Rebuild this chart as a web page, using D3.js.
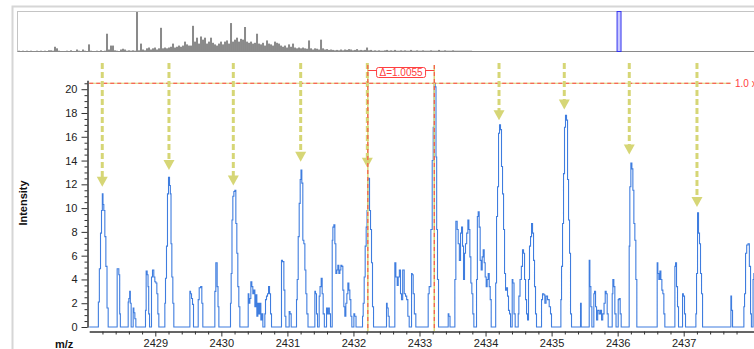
<!DOCTYPE html>
<html>
<head>
<meta charset="utf-8">
<script src="https://cdn.jsdelivr.net/npm/d3@7"></script>
<style>
  html, body { margin: 0; padding: 0; background: #fff; }
  svg { display: block; font-family: "Liberation Sans", Arial, sans-serif; }
</style>
</head>
<body>
<svg id="chart" width="754" height="349"></svg>
<script>
// ---- Zoomed profile spectrum: [m/z, intensity] ----
const profile = [
  [2428.0,0],
  [2428.133,0],[2428.143,2.1],[2428.163,4.9],[2428.178,7.9],[2428.193,9.8],[2428.203,11.2],[2428.213,10.3],[2428.228,9.8],[2428.244,7.6],[2428.259,5.1],[2428.279,1.6],[2428.294,0],
  [2428.420,0],[2428.425,4.9],[2428.440,4.9],[2428.456,4.4],[2428.466,1.1],[2428.476,0],
  [2428.587,0],[2428.592,2.1],[2428.607,2.4],[2428.617,3.0],[2428.627,2.0],[2428.642,0],[2428.662,0],[2428.668,1.6],[2428.683,1.2],[2428.698,0.7],[2428.713,0],
  [2428.849,0],[2428.854,1.4],[2428.869,4.7],[2428.885,4.4],[2428.895,3.4],[2428.905,1.1],[2428.920,0],[2428.940,0],[2428.945,4.2],[2428.970,4.8],[2428.985,4.2],[2429.001,3.8],[2429.016,3.7],[2429.031,2.8],[2429.046,1.1],[2429.061,0],
  [2429.142,0],[2429.147,2.0],[2429.162,4.1],[2429.177,6.8],[2429.192,11.2],[2429.208,12.6],[2429.223,11.9],[2429.233,11.2],[2429.243,7.0],[2429.258,4.2],[2429.273,2.0],[2429.288,0],
  [2429.521,0],[2429.526,3.0],[2429.541,2.8],[2429.556,2.4],[2429.571,1.9],[2429.586,0],[2429.647,0],[2429.652,2.3],[2429.677,3.3],[2429.697,3.4],[2429.712,2.0],[2429.727,0],
  [2429.899,0],[2429.904,3.0],[2429.929,5.4],[2429.944,3.4],[2429.955,1.7],[2429.970,0],
  [2430.136,0],[2430.141,2.0],[2430.156,4.5],[2430.166,9.0],[2430.182,11.0],[2430.197,11.4],[2430.212,11.5],[2430.227,8.7],[2430.242,6.2],[2430.257,3.4],[2430.272,1.7],[2430.288,0],
  [2430.404,0],[2430.409,2.8],[2430.424,2.0],[2430.439,2.4],[2430.454,3.8],[2430.469,3.4],[2430.484,2.8],[2430.500,3.1],[2430.515,1.7],[2430.530,2.7],[2430.545,0.9],[2430.560,2.0],[2430.575,1.1],[2430.590,2.0],[2430.606,0.6],[2430.621,1.1],[2430.636,0],[2430.656,0],[2430.661,1.1],[2430.676,2.3],[2430.691,2.6],[2430.707,2.8],[2430.722,3.4],[2430.737,2.8],[2430.752,1.1],[2430.767,0],
  [2430.908,0],[2430.913,5.6],[2430.939,5.5],[2430.954,3.1],[2430.969,0.9],[2430.984,0],[2431.024,0],[2431.030,1.3],[2431.050,1.1],[2431.065,0],
  [2431.135,0],[2431.141,2.3],[2431.156,4.0],[2431.171,7.6],[2431.186,10.4],[2431.201,12.4],[2431.211,13.2],[2431.226,12.1],[2431.241,7.3],[2431.257,7.0],[2431.272,4.8],[2431.287,2.8],[2431.302,1.1],[2431.322,0],
  [2431.413,0],[2431.418,3.0],[2431.433,2.8],[2431.448,1.1],[2431.464,0],[2431.479,0],[2431.484,2.6],[2431.504,3.4],[2431.519,4.1],[2431.534,2.8],[2431.549,1.1],[2431.570,0],[2431.590,0],[2431.595,1.6],[2431.610,1.1],[2431.625,1.6],[2431.645,1.1],[2431.660,0],
  [2431.676,0],[2431.681,7.3],[2431.696,8.4],[2431.711,8.6],[2431.726,7.0],[2431.741,4.5],[2431.756,4.8],[2431.771,5.2],[2431.787,4.5],[2431.802,4.8],[2431.817,5.2],[2431.832,5.1],[2431.847,3.1],[2431.862,1.7],[2431.877,0.9],[2431.893,2.0],[2431.908,2.8],[2431.923,3.7],[2431.938,3.1],[2431.953,2.3],[2431.968,0.9],[2431.983,0],[2432.004,0],[2432.009,1.1],[2432.029,0.9],[2432.049,0],
  [2432.135,0],[2432.140,0.9],[2432.155,2.0],[2432.170,4.2],[2432.185,6.8],[2432.200,8.4],[2432.211,9.8],[2432.221,12.4],[2432.236,12.5],[2432.251,9.8],[2432.266,8.2],[2432.281,5.4],[2432.296,1.7],[2432.312,0],
  [2432.498,0],[2432.503,2.0],[2432.518,1.6],[2432.534,0.9],[2432.549,0],[2432.624,0],[2432.629,5.4],[2432.655,4.2],[2432.670,3.5],[2432.685,4.2],[2432.705,4.8],[2432.720,2.8],[2432.735,2.3],[2432.756,4.8],[2432.781,2.8],[2432.796,2.6],[2432.816,2.3],[2432.831,0.9],[2432.857,0],[2432.877,0],[2432.882,4.5],[2432.897,4.4],[2432.912,2.8],[2432.932,1.1],[2432.957,0],
  [2433.129,0],[2433.134,2.8],[2433.159,3.4],[2433.185,8.2],[2433.200,14.0],[2433.215,16.8],[2433.230,20.5],[2433.245,20.2],[2433.255,14.3],[2433.265,8.2],[2433.280,4.0],[2433.296,0],
  [2433.432,0],[2433.437,1.1],[2433.452,0.9],[2433.472,0],
  [2433.533,0],[2433.538,4.0],[2433.563,8.9],[2433.578,8.2],[2433.593,7.0],[2433.614,5.6],[2433.629,7.9],[2433.644,8.4],[2433.659,6.8],[2433.674,4.0],[2433.689,6.2],[2433.704,7.0],[2433.725,7.9],[2433.740,9.0],[2433.755,8.2],[2433.770,5.9],[2433.785,3.7],[2433.800,2.8],[2433.815,1.1],[2433.831,0],[2433.856,0],[2433.871,4.0],[2433.881,9.3],[2433.896,9.7],[2433.911,8.4],[2433.926,5.6],[2433.942,4.8],[2433.957,5.9],[2433.972,6.5],[2433.987,5.4],[2434.002,4.2],[2434.017,3.4],[2434.032,4.0],[2434.048,4.5],[2434.063,3.4],[2434.078,2.3],[2434.093,0],
  [2434.148,0],[2434.159,3.7],[2434.174,9.3],[2434.189,11.8],[2434.204,16.3],[2434.219,17.0],[2434.234,16.6],[2434.249,13.5],[2434.265,11.2],[2434.280,8.2],[2434.295,4.5],[2434.310,3.1],[2434.325,3.3],[2434.340,2.6],[2434.355,1.4],[2434.371,1.1],[2434.386,0],[2434.401,0],[2434.406,4.0],[2434.421,3.7],[2434.441,1.1],[2434.456,0],
  [2434.492,0],[2434.497,1.1],[2434.512,2.6],[2434.532,4.0],[2434.552,5.1],[2434.567,6.5],[2434.583,6.2],[2434.598,4.0],[2434.613,2.3],[2434.628,1.1],[2434.643,0.6],[2434.658,4.0],[2434.673,6.8],[2434.689,7.6],[2434.704,8.7],[2434.719,7.9],[2434.734,5.6],[2434.749,3.4],[2434.764,1.1],[2434.779,0],
  [2434.845,0],[2434.850,2.3],[2434.875,2.8],[2434.890,2.7],[2434.906,2.0],[2434.926,2.6],[2434.951,2.3],[2434.976,1.7],[2434.991,1.1],[2435.006,0],
  [2435.138,0],[2435.143,2.3],[2435.158,5.1],[2435.173,8.7],[2435.188,12.9],[2435.203,16.8],[2435.218,17.8],[2435.234,17.4],[2435.249,12.4],[2435.264,9.0],[2435.279,6.2],[2435.294,1.1],[2435.309,0],
  [2435.435,0],[2435.441,2.0],[2435.456,0],[2435.567,0],[2435.572,5.6],[2435.587,3.4],[2435.602,1.7],[2435.617,0],[2435.637,0],[2435.642,2.8],[2435.658,3.0],[2435.673,1.7],[2435.688,0.6],[2435.708,1.4],[2435.733,1.1],[2435.748,1.4],[2435.764,0.6],[2435.784,1.1],[2435.804,2.0],[2435.819,3.0],[2435.834,2.8],[2435.849,1.1],[2435.864,0],[2435.915,0],[2435.920,2.8],[2435.935,4.0],[2435.950,3.4],[2435.965,1.1],[2435.986,0],[2436.006,0],[2436.011,2.3],[2436.031,2.4],[2436.046,1.1],[2436.061,0],
  [2436.172,0],[2436.177,6.8],[2436.192,11.8],[2436.208,13.8],[2436.223,13.3],[2436.238,11.5],[2436.253,8.7],[2436.268,7.3],[2436.283,4.0],[2436.298,0],
  [2436.596,0],[2436.601,5.4],[2436.616,4.5],[2436.632,4.0],[2436.647,4.7],[2436.662,4.0],[2436.677,3.1],[2436.692,2.8],[2436.707,1.1],[2436.722,0],[2436.864,0],[2436.869,5.1],[2436.884,5.4],[2436.899,3.4],[2436.914,1.7],[2436.929,0],[2436.980,0],[2436.985,2.8],[2437.005,2.6],[2437.020,1.1],[2437.035,0],
  [2437.182,0],[2437.187,1.1],[2437.202,4.5],[2437.217,9.6],[2437.232,7.9],[2437.247,7.0],[2437.262,4.5],[2437.278,2.8],[2437.293,0],
  [2437.712,0],[2437.717,2.6],[2437.732,1.4],[2437.747,0],
  [2437.908,0],[2437.914,1.7],[2437.929,2.8],[2437.944,6.2],[2437.964,6.9],[2437.984,7.0],[2438.004,5.1],[2438.020,1.1],[2438.030,0],[2438.045,0],[2438.055,4.0],[2438.070,4.5],[2438.090,0],
  [2438.3,0]
];

// ---- Axis ticks ----
const xTicks = [2429, 2430, 2431, 2432, 2433, 2434, 2435, 2436, 2437];
const yTicks = [0, 2, 4, 6, 8, 10, 12, 14, 16, 18, 20];

// ---- Isotope markers (m/z, intensity the arrow points to) ----
const isoMz  = [2428.197, 2429.207, 2430.181, 2431.201, 2432.210, 2434.204, 2435.192, 2436.176, 2437.201];
const isoInt = [11.8, 13.2, 11.9, 13.9, 13.4, 17.4, 18.3, 14.5, 10.1];

// ---- Distance measurement and reference level ----
const deltaFrom = 2432.218;
const deltaTo = 2433.2235;
const deltaLabel = "\u0394=1.0055";
const refLevel = 20.5;
const refLabel = "1.0 x";

// ---- Overview spectrum (binned relative abundance, %) ----
const ovStart = 870.6;
const ovBin = 5.2;
const ovValues = [
  2,0,2,0,2,0,2,0,0,2,0,2,0,2,0,3,3,2,12,8,2,0,0,0,2,0,3,0,0,5,2,0,5,2,0,18,2,0,0,2,0,3,0,2,
  45,5,15,15,3,2,0,5,7,5,2,3,2,3,2,100,3,20,5,3,8,10,5,8,10,5,8,60,8,10,8,10,12,20,10,12,15,12,15,25,18,15,15,
  65,25,35,20,38,30,35,20,25,35,22,18,15,20,25,18,25,28,20,72,25,30,35,25,32,30,62,25,22,25,20,22,45,20,18,22,15,28,20,18,15,
  25,22,20,15,12,15,10,18,12,20,10,8,10,8,10,8,7,28,8,5,8,7,5,30,8,5,6,4,5,4,3,4,3,5,3,5,4,6,5,3,4,6,3,4,3,4,10,3,4,2,3,2,3,2,2,3,4,2,3,2,4,2,2,3,2,3,2,2,4,2,2,3,2,2,3,2,2,2,3,2,2,2,4,2,2,3,2,2,2,3,2,2,2,2,2,2,2,2,2
];

const W = 754, H = 349;
const svg = d3.select("#chart");

// ---------- frame ----------
svg.append("path")
  .attr("d", `M${W},6.5 H12.5 V${H}`)
  .attr("fill", "none").attr("stroke", "#d6d6d6").attr("stroke-width", 2);

// ---------- overview panel ----------
const ovX = d3.scaleLinear().domain([868, 2784]).range([17, W]);
const ovY = d3.scaleLinear().domain([0, 100]).range([51.5, 12]);

svg.append("rect")
  .attr("x", 17.5).attr("y", 11.5).attr("width", W).attr("height", 40)
  .attr("fill", "#fff").attr("stroke", "#c4c4c4");

svg.append("g").selectAll("rect").data(ovValues).join("rect")
  .attr("x", (d, i) => ovX(ovStart + i * ovBin))
  .attr("width", ovX(ovBin) - ovX(0))
  .attr("y", d => ovY(d))
  .attr("height", d => ovY(0) - ovY(d))
  .attr("fill", "#8a8a8a");

svg.append("line")
  .attr("x1", 17.5).attr("x2", W).attr("y1", 51.5).attr("y2", 51.5)
  .attr("stroke", "#8a8a8a");

// main scales
const x = d3.scaleLinear().domain([2428, 2438.3]).range([89.25, 89.25 + 66.05 * 10.3]);
const y = d3.scaleLinear().domain([0, 20.75]).range([327, 80.3]);

// visible window marker in overview
const [vx0, vx1] = x.domain().map(ovX);
svg.append("rect")
  .attr("x", vx0).attr("y", 11.5).attr("width", vx1 - vx0).attr("height", 40)
  .attr("fill", "#c8c8ff").attr("stroke", "#3434ee");

// ---------- main plot ----------
svg.append("clipPath").attr("id", "plotClip")
  .append("rect").attr("x", 88.5).attr("y", 55).attr("width", W - 88.5).attr("height", 280);

const plot = svg.append("g").attr("clip-path", "url(#plotClip)");

// profile drawn as a stepped trace
const line = d3.line().x(d => x(d[0])).y(d => y(d[1])).curve(d3.curveStep);
plot.append("path")
  .datum(profile)
  .attr("d", line)
  .attr("fill", "none")
  .attr("stroke", "#3f7ddf")
  .attr("stroke-width", 1.1);

const yellow = "#d6d676";
const red = "#ff4040";

// reference level line
const refEnd = W - 23;
plot.append("line")
  .attr("x1", x.range()[0]).attr("x2", refEnd)
  .attr("y1", y(refLevel)).attr("y2", y(refLevel))
  .attr("stroke", yellow).attr("stroke-width", 1.2);
plot.append("line")
  .attr("x1", x.range()[0]).attr("x2", refEnd)
  .attr("y1", y(refLevel)).attr("y2", y(refLevel))
  .attr("stroke", red).attr("stroke-width", 1.2).attr("stroke-dasharray", "4,3");
svg.append("text")
  .attr("x", refEnd + 4).attr("y", y(refLevel) + 3.5)
  .attr("fill", red).attr("font-size", 10)
  .text(refLabel);

// isotope arrows
const arrows = plot.append("g");
isoMz.forEach((mz, i) => {
  const cx = x(mz), tip = y(isoInt[i]);
  arrows.append("line")
    .attr("x1", cx).attr("x2", cx).attr("y1", 63).attr("y2", tip - 9)
    .attr("stroke", yellow).attr("stroke-width", 3).attr("stroke-dasharray", "6,3");
  arrows.append("path")
    .attr("d", `M${cx - 5.5},${tip - 10} L${cx + 5.5},${tip - 10} L${cx},${tip} Z`)
    .attr("fill", yellow);
});

// distance measurement
const mx0 = x(deltaFrom), mx1 = x(deltaTo);
[mx0, mx1].forEach(mx => {
  svg.append("line")
    .attr("x1", mx).attr("x2", mx).attr("y1", 65).attr("y2", 331)
    .attr("stroke", yellow).attr("stroke-width", 1.5);
  svg.append("line")
    .attr("x1", mx).attr("x2", mx).attr("y1", 65).attr("y2", 331)
    .attr("stroke", red).attr("stroke-width", 1).attr("stroke-dasharray", "4,3");
});
svg.append("line")
  .attr("x1", mx0).attr("x2", mx1).attr("y1", 70.5).attr("y2", 70.5)
  .attr("stroke", red).attr("stroke-width", 1);
const mid = (mx0 + mx1) / 2;
svg.append("rect")
  .attr("x", mid - 24.5).attr("y", 67.5).attr("width", 49).attr("height", 10).attr("rx", 2)
  .attr("fill", "#fff").attr("stroke", red);
svg.append("text")
  .attr("x", mid).attr("y", 76).attr("text-anchor", "middle")
  .attr("fill", red).attr("font-size", 10)
  .text(deltaLabel);

// ---------- axes ----------
const axisColor = "#333";
function styleAxis(g) {
  g.attr("font-family", "Liberation Sans, Arial, sans-serif").attr("font-size", 11);
  g.selectAll("path,line").attr("stroke", axisColor);
  g.selectAll("text").attr("fill", "#222");
}

const yMinor = d3.range(0, 20.75, 0.5).filter(v => !yTicks.includes(v));
svg.append("g").attr("transform", "translate(87.5,0)")
  .call(d3.axisLeft(y).tickValues(yMinor).tickSize(3).tickSizeOuter(0).tickFormat(""))
  .call(styleAxis);
svg.append("g").attr("transform", "translate(87.5,0)")
  .call(d3.axisLeft(y).tickValues(yTicks).tickSize(6).tickSizeOuter(0).tickPadding(4))
  .call(styleAxis);

const xMinor = d3.range(2428.2, 2438.3, 0.2).filter(v => Math.abs(v - Math.round(v)) > 0.01);
svg.append("g").attr("transform", "translate(0,331.5)")
  .call(d3.axisBottom(x).tickValues(xMinor).tickSize(3).tickSizeOuter(0).tickFormat(""))
  .call(styleAxis);
svg.append("g").attr("transform", "translate(0,331.5)")
  .call(d3.axisBottom(x).tickValues(xTicks).tickSize(5).tickSizeOuter(0).tickPadding(3).tickFormat(d3.format("d")))
  .call(styleAxis);

// axis titles
svg.append("text")
  .attr("transform", "translate(26.5,203) rotate(-90)")
  .attr("text-anchor", "middle").attr("font-size", 11).attr("font-weight", "bold").attr("fill", "#111")
  .text("Intensity");
svg.append("text")
  .attr("x", 55).attr("y", 348)
  .attr("font-size", 11).attr("font-weight", "bold").attr("fill", "#111")
  .text("m/z");
</script>
</body>
</html>
